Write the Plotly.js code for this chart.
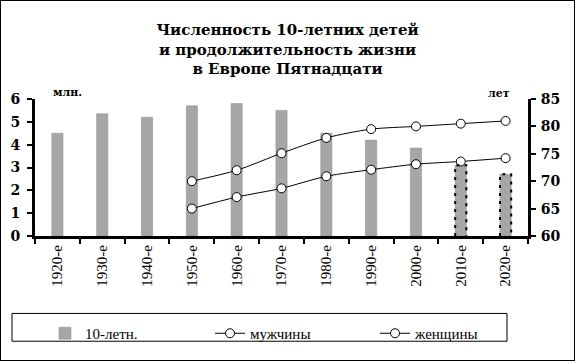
<!DOCTYPE html>
<html>
<head>
<meta charset="utf-8">
<script src="https://cdn.plot.ly/plotly-3.0.1.min.js"></script>
<style>
  html, body { margin: 0; padding: 0; background: #fff; }
  #plot { width: 573px; height: 359px; border: 1px solid #000; }
</style>
</head>
<body>
<div id="plot"></div>
<script>
// ---- data ----
const categories = ['1920-е','1930-е','1940-е','1950-е','1960-е','1970-е','1980-е','1990-е','2000-е','2010-е','2020-е'];
const children   = [4.5, 5.35, 5.2, 5.7, 5.8, 5.5, 4.5, 4.2, 3.85, 3.1, 2.7];   // млн.
const projected  = ['2010-е','2020-е'];                                        // forecast bars
const men        = [null, null, null, 65.0, 67.1, 68.7, 70.9, 72.1, 73.1, 73.6, 74.2]; // лет
const women      = [null, null, null, 70.0, 72.0, 75.1, 77.9, 79.5, 80.0, 80.5, 81.0]; // лет
const leftTicks  = [0,1,2,3,4,5,6];
const rightTicks = [60,65,70,75,80,85];

const serif = '"Liberation Serif", "Times New Roman", serif';
const boldSerif = '"DejaVu Serif", serif';
const barGap = 0.75;
const half = (1 - barGap) / 2;

// pixel helpers for layout decorations (plot area inside the 573x359 div)
const PL = 34, PR = 527, PT = 98, PB = 236;
const px = v => (v - PL) / (PR - PL);
const py = v => (PB - v) / (PB - PT);

const traces = [
  {
    type: 'bar', name: '10-летн.', x: categories, y: children,
    marker: {color: '#a6a6a6', line: {color: '#8a8a8a', width: 0.5}},
    xaxis: 'x', yaxis: 'y'
  },
  {
    type: 'scatter', mode: 'lines+markers', name: 'мужчины', x: categories, y: men,
    line: {color: '#000', width: 1, shape: 'spline', smoothing: 0.8},
    marker: {symbol: 'circle', size: 9, color: '#fff', line: {color: '#000', width: 1}},
    xaxis: 'x', yaxis: 'y2'
  },
  {
    type: 'scatter', mode: 'lines+markers', name: 'женщины', x: categories, y: women,
    line: {color: '#000', width: 1, shape: 'spline', smoothing: 0.8},
    marker: {symbol: 'circle', size: 9, color: '#fff', line: {color: '#000', width: 1}},
    xaxis: 'x', yaxis: 'y2'
  }
];

// dotted outlines of forecast bars, built from the data on a numeric overlay axis
projected.forEach(function (c) {
  const i = categories.indexOf(c);
  const v = children[i];
  traces.push({
    type: 'scatter', mode: 'lines', showlegend: false, hoverinfo: 'skip',
    x: [i - half, i - half, i + half, i + half],
    y: [0, v, v, 0],
    line: {color: '#000', width: 2, dash: '3px,5px'},
    xaxis: 'x2', yaxis: 'y'
  });
});

const layout = {
  width: 573, height: 359,
  margin: {l: PL, r: 573 - PR, t: PT, b: 359 - PB},
  paper_bgcolor: '#fff', plot_bgcolor: '#fff',
  bargap: barGap,
  showlegend: true,
  font: {family: serif, color: '#000'},
  title: {
    text: 'Численность 10-летних детей<br>и продолжительность жизни<br>в Европе Пятнадцати',
    font: {family: boldSerif, size: 15, color: '#000', weight: 700},
    x: 0.5, xref: 'container', xanchor: 'center',
    y: 1 - 34/359, yref: 'container', yanchor: 'top'
  },
  xaxis: {
    type: 'category', range: [-0.5, 10.5],
    showline: true, linecolor: '#000', linewidth: 3,
    ticks: 'outside', tickson: 'boundaries', ticklen: 5, tickwidth: 2, tickcolor: '#000',
    tickangle: -90, tickfont: {family: serif, size: 15, color: '#000'},
    showgrid: false, zeroline: false, fixedrange: true
  },
  xaxis2: {
    overlaying: 'x', range: [-0.5, 10.5], visible: false, fixedrange: true
  },
  yaxis: {
    range: [0, 6], tickvals: leftTicks,
    showline: true, linecolor: '#000', linewidth: 3,
    ticks: 'outside', ticklen: 5, tickwidth: 2, tickcolor: '#000',
    ticklabelstandoff: 4,
    tickfont: {family: boldSerif, size: 14, color: '#000', weight: 700},
    showgrid: false, zeroline: false, fixedrange: true
  },
  yaxis2: {
    overlaying: 'y', side: 'right', range: [60, 85], tickvals: rightTicks,
    showline: true, linecolor: '#000', linewidth: 3,
    ticks: 'outside', ticklen: 5, tickwidth: 2, tickcolor: '#000',
    ticklabelstandoff: 2,
    tickfont: {family: boldSerif, size: 14, color: '#000', weight: 700},
    showgrid: false, zeroline: false, fixedrange: true
  },
  legend: {
    orientation: 'h', x: px(44), xanchor: 'left', y: py(316), yanchor: 'top',
    borderwidth: 0, bgcolor: 'rgba(0,0,0,0)',
    font: {family: serif, size: 15, color: '#000'},
    entrywidth: 120, entrywidthmode: 'pixels', traceorder: 'normal'
  },
  shapes: [
    {type: 'rect', xref: 'paper', yref: 'paper', x0: px(11), x1: px(506), y0: py(314), y1: py(342),
     line: {color: '#000', width: 1}, fillcolor: 'rgba(0,0,0,0)', layer: 'below'}
  ],
  annotations: [
    {text: 'млн.', xref: 'paper', yref: 'paper', x: px(66), y: py(91),
     xanchor: 'center', yanchor: 'middle', showarrow: false, font: {family: boldSerif, size: 11, color: '#000', weight: 700}},
    {text: 'лет', xref: 'paper', yref: 'paper', x: px(498), y: py(92),
     xanchor: 'center', yanchor: 'middle', showarrow: false, font: {family: boldSerif, size: 11, color: '#000', weight: 700}}
  ]
};

Plotly.newPlot('plot', traces, layout, {displayModeBar: false, staticPlot: true});
</script>
</body>
</html>
